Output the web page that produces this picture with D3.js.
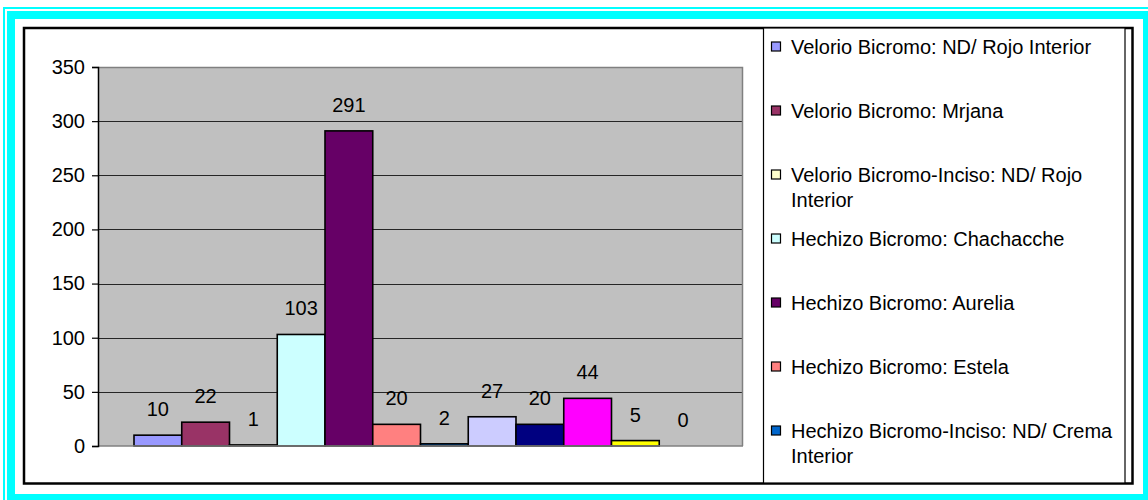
<!DOCTYPE html>
<html>
<head>
<meta charset="utf-8">
<script src="https://cdn.jsdelivr.net/npm/d3@7"></script>
<style>
  html, body { margin: 0; padding: 0; background: #ffffff; }
  svg { display: block; }
  text { font-family: "Liberation Sans", Arial, sans-serif; }
</style>
</head>
<body>
<svg id="chart" width="1148" height="500"></svg>
<script>
// ---- data ----
const seriesIndex = [1, 2, 3, 4, 5, 6, 7, 8, 9, 10, 11, 12];
const seriesValues = [10, 22, 1, 103, 291, 20, 2, 27, 20, 44, 5, 0];
const seriesColors = ["#9999FF", "#993366", "#FFFFCC", "#CCFFFF", "#660066", "#FF8080",
                      "#0066CC", "#CCCCFF", "#000080", "#FF00FF", "#FFFF00", "#00FFFF"];
const legendLabels = [
  "Velorio Bicromo: ND/ Rojo Interior",
  "Velorio Bicromo: Mrjana",
  "Velorio Bicromo-Inciso: ND/ Rojo Interior",
  "Hechizo Bicromo: Chachacche",
  "Hechizo Bicromo: Aurelia",
  "Hechizo Bicromo: Estela",
  "Hechizo Bicromo-Inciso: ND/ Crema Interior"
];
const yTicks = [0, 50, 100, 150, 200, 250, 300, 350];

// ---- layout ----
const svg = d3.select("#chart");
const plot = { left: 98, right: 743, top: 67, bottom: 446 };
const gap = 36;

// outer cyan frame
svg.append("rect").attr("x", 4).attr("y", 8).attr("width", 1150).attr("height", 497)
  .attr("fill", "none").attr("stroke", "#00FFFF").attr("stroke-width", 2);
svg.append("rect").attr("x", 11).attr("y", 15).attr("width", 1136).attr("height", 483)
  .attr("fill", "none").attr("stroke", "#00FFFF").attr("stroke-width", 8);

// chart border
svg.append("rect").attr("x", 24).attr("y", 28).attr("width", 1108.5).attr("height", 455.5)
  .attr("fill", "#ffffff").attr("stroke", "#000000").attr("stroke-width", 2.5);

const y = d3.scaleLinear().domain([0, 350]).range([plot.bottom, plot.top]);
const x = d3.scaleBand().domain(seriesIndex).range([plot.left + gap, plot.right - gap]).padding(0);

// plot background
svg.append("rect").attr("x", plot.left).attr("y", plot.top)
  .attr("width", plot.right - plot.left).attr("height", plot.bottom - plot.top)
  .attr("fill", "#C0C0C0");

// gridlines
svg.append("g").selectAll("line").data(yTicks.filter(t => t > 0 && t < 350)).join("line")
  .attr("x1", plot.left).attr("x2", plot.right)
  .attr("y1", d => Math.round(y(d)) + 0.5).attr("y2", d => Math.round(y(d)) + 0.5)
  .attr("stroke", "#000000").attr("stroke-width", 1).attr("opacity", 0.8);

// plot border (top/right grey)
svg.append("path")
  .attr("d", `M${plot.left},${plot.top + 0.5}H${plot.right - 0.5}V${plot.bottom}`)
  .attr("fill", "none").attr("stroke", "#808080").attr("stroke-width", 1.5);

// bars
svg.append("g").selectAll("rect").data(seriesIndex).join("rect")
  .attr("x", d => x(d))
  .attr("y", (d, i) => y(seriesValues[i]))
  .attr("width", x.bandwidth())
  .attr("height", (d, i) => plot.bottom - y(seriesValues[i]))
  .attr("fill", (d, i) => seriesColors[i])
  .attr("stroke", "#000000").attr("stroke-width", 1.6);

// baseline
svg.append("line").attr("x1", plot.left).attr("x2", plot.right)
  .attr("y1", plot.bottom).attr("y2", plot.bottom)
  .attr("stroke", "#808080").attr("stroke-width", 1.5);

// y axis
const yAxis = d3.axisLeft(y).tickValues(yTicks).tickSize(6).tickPadding(7);
const ga = svg.append("g").attr("transform", `translate(${plot.left},0)`).call(yAxis);
ga.select(".domain").attr("stroke", "#000000").attr("stroke-width", 1.5);
ga.selectAll(".tick line").attr("stroke", "#000000").attr("stroke-width", 1.2);
ga.selectAll(".tick text").attr("font-size", 20).attr("fill", "#000000")
  .attr("font-family", "Liberation Sans, Arial, sans-serif");

// value labels
svg.append("g").selectAll("text").data(seriesIndex).join("text")
  .attr("x", d => x(d) + x.bandwidth() / 2)
  .attr("y", (d, i) => y(seriesValues[i]) - 19)
  .attr("text-anchor", "middle")
  .attr("font-size", 20).attr("fill", "#000000")
  .text((d, i) => seriesValues[i]);

// legend box
svg.append("rect").attr("x", 763.5).attr("y", 28).attr("width", 361.5).attr("height", 455)
  .attr("fill", "#ffffff").attr("stroke", "#000000").attr("stroke-width", 1.2);

const legend = svg.append("g");
const maxW = 334;
legendLabels.forEach((lab, i) => {
  const cy = 47 + 64 * i;
  legend.append("rect").attr("x", 771.5).attr("y", cy - 5).attr("width", 9).attr("height", 9)
    .attr("fill", seriesColors[i]).attr("stroke", "#000000").attr("stroke-width", 1.2);
  const t = legend.append("text").attr("x", 791).attr("y", cy + 7).attr("font-size", 20).attr("fill", "#000000");
  const words = lab.split(" ");
  let line = [];
  let ts = t.append("tspan").attr("x", 791).attr("dy", 0);
  words.forEach(w => {
    line.push(w);
    ts.text(line.join(" "));
    if (ts.node().getComputedTextLength() > maxW && line.length > 1) {
      line.pop();
      ts.text(line.join(" "));
      line = [w];
      ts = t.append("tspan").attr("x", 791).attr("dy", 24.5).text(w);
    }
  });
});
</script>
</body>
</html>
